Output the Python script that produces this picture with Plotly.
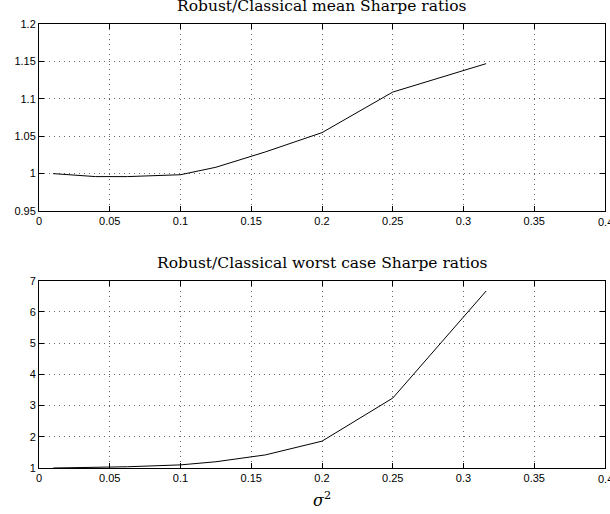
import plotly.graph_objects as go
from plotly.subplots import make_subplots

sigma2 = [0.01, 0.04, 0.0625, 0.1, 0.125, 0.16, 0.2, 0.25, 0.316]
mean_ratio = [1.0, 0.996, 0.996, 0.9985, 1.0085, 1.029, 1.0548, 1.109, 1.147]
worst_ratio = [1.0, 1.02, 1.04, 1.1, 1.2, 1.42, 1.86, 3.24, 6.67]

x_ticks = [0, 0.05, 0.1, 0.15, 0.2, 0.25, 0.3, 0.35, 0.4]
x_ticklabels = ["0", "0.05", "0.1", "0.15", "0.2", "0.25", "0.3", "0.35", "0.4"]
y1_ticks = [0.95, 1.0, 1.05, 1.1, 1.15, 1.2]
y1_ticklabels = ["0.95", "1", "1.05", "1.1", "1.15", "1.2"]
y2_ticks = [1, 2, 3, 4, 5, 6, 7]
y2_ticklabels = ["1", "2", "3", "4", "5", "6", "7"]

fig = make_subplots(rows=2, cols=1, vertical_spacing=0.157)
fig.add_trace(go.Scatter(x=sigma2, y=mean_ratio, mode="lines",
                         line=dict(color="black", width=1)), row=1, col=1)
fig.add_trace(go.Scatter(x=sigma2, y=worst_ratio, mode="lines",
                         line=dict(color="black", width=1)), row=2, col=1)

tick_font = dict(family="Liberation Sans, Arial", size=11, color="black")
axis_common = dict(showline=True, linecolor="black", linewidth=1, mirror="ticks",
                   ticks="inside", ticklen=5, tickcolor="black",
                   showgrid=True, gridcolor="#666666", griddash="1px,4px", gridwidth=1,
                   zeroline=False, tickfont=tick_font)

fig.update_xaxes(range=[0, 0.4], tickvals=x_ticks, ticktext=x_ticklabels, **axis_common)
fig.update_yaxes(range=[0.95, 1.2], tickvals=y1_ticks, ticktext=y1_ticklabels,
                 row=1, col=1, **axis_common)
fig.update_yaxes(range=[1, 7], tickvals=y2_ticks, ticktext=y2_ticklabels,
                 row=2, col=1, **axis_common)

fig.update_layout(
    width=610, height=514,
    margin=dict(l=39, r=5, t=24, b=46),
    paper_bgcolor="white", plot_bgcolor="white",
    showlegend=False,
    yaxis=dict(domain=[0.5788, 1.0]),
    yaxis2=dict(domain=[0.0, 0.4218]),
)

# last x tick label, which runs past the right edge in the reference
for xr, yr, ymin in (("x", "y", y1_ticks[0]), ("x2", "y2", y2_ticks[0])):
    fig.add_annotation(text=x_ticklabels[-1], xref=xr, yref=yr, x=x_ticks[-1], y=ymin,
                       showarrow=False, font=tick_font, xanchor="center", yanchor="top",
                       yshift=-3)

title_font = dict(family="DejaVu Serif, Liberation Serif, serif", size=15.5, color="black")
fig.add_annotation(text="Robust/Classical mean Sharpe ratios", xref="paper", yref="paper",
                   x=0.5, y=1.0, yshift=18, showarrow=False, font=title_font,
                   xanchor="center", yanchor="middle")
fig.add_annotation(text="Robust/Classical worst case Sharpe ratios", xref="paper", yref="paper",
                   x=0.5, y=0.4218, yshift=18, showarrow=False, font=title_font,
                   xanchor="center", yanchor="middle")
fig.add_annotation(text="<i>σ</i><sup>2</sup>", xref="paper", yref="paper",
                   x=0.5, y=0, yshift=-31, showarrow=False,
                   font=dict(family="DejaVu Serif, Liberation Serif, serif", size=16, color="black"),
                   xanchor="center", yanchor="middle")

fig.write_html("out.html")
